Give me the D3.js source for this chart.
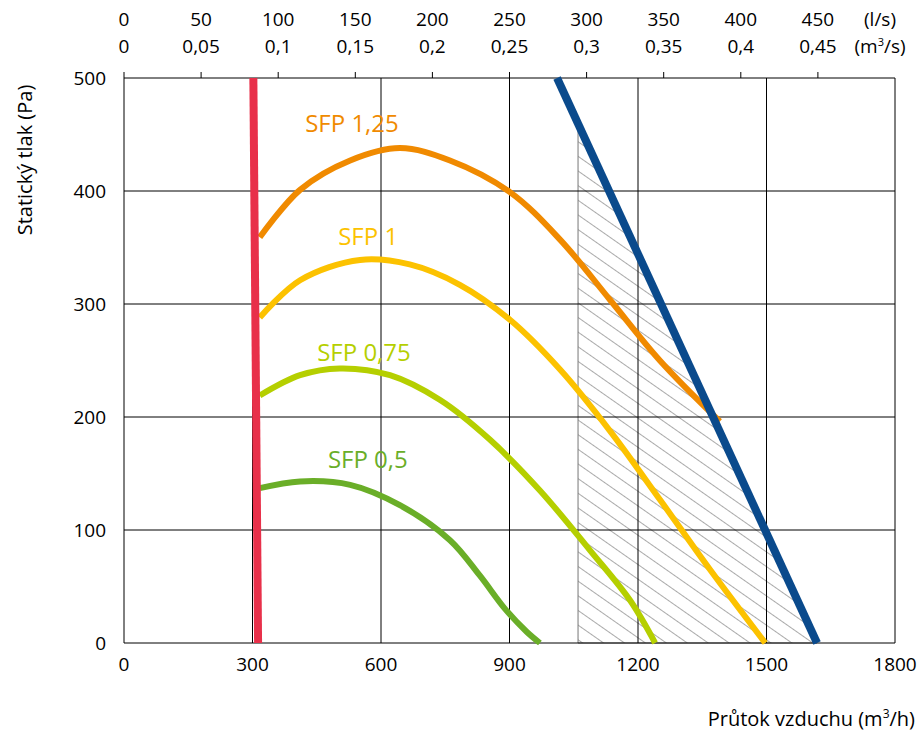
<!DOCTYPE html><html><head><meta charset="utf-8"><script src="https://cdn.jsdelivr.net/npm/d3@7"></script>
<style>body{margin:0;background:#fff}text{font-family:"Open Sans",sans-serif}</style></head><body><svg id="c" width="923" height="734"></svg>
<script>
const xTicks=[0,300,600,900,1200,1500,1800];
const yTicks=[0,100,200,300,400,500];
const topLs=[0,50,100,150,200,250,300,350,400,450];
const topM3=["0","0,05","0,1","0,15","0,2","0,25","0,3","0,35","0,4","0,45"];
const redLine=[[302,500],[313,0]];
const blueLine=[[1011,500],[1618,0]];
const hatch=[[1060,0],[1060,460],[1618,0]];
const sfp125=[[317,359],[411,401],[528,427],[644,438],[761,427],[901,399],[1018,357],[1134,304],[1251,250],[1391,196]];
const sfp1=[[317,288],[411,321],[551,339],[667,335],[784,317],[901,286],[1018,242],[1134,188],[1251,127],[1368,65],[1497,0]];
const sfp075=[[317,219],[411,237],[504,243],[621,237],[738,215],[854,180],[971,135],[1088,82],[1181,38],[1240,0]];
const sfp05=[[317,137],[411,143],[528,140],[644,122],[761,91],[830,60],[890,30],[940,10],[971,0]];
const series=[{n:"SFP 1,25",d:sfp125,c:"#f08a00",l:[423,452]},{n:"SFP 1",d:sfp1,c:"#fcc200",l:[500,352]},{n:"SFP 0,75",d:sfp075,c:"#b5cf00",l:[451,250]},{n:"SFP 0,5",d:sfp05,c:"#6aae28",l:[476,155]}];
const svg=d3.select("#c");
const x=d3.scaleLinear().domain([0,1800]).range([124,895]);
const y=d3.scaleLinear().domain([0,500]).range([643,78]);
const defs=svg.append("defs");
const p=defs.append("pattern").attr("id","h").attr("patternUnits","userSpaceOnUse").attr("width",12).attr("height",12).attr("patternTransform","rotate(35)");
p.append("line").attr("x1",0).attr("y1",0).attr("x2",12).attr("y2",0).attr("stroke","#555").attr("stroke-width",1);
const ln=d3.line().x(d=>x(d[0])).y(d=>y(d[1]));
svg.append("path").attr("d",ln(hatch)+"Z").attr("fill","url(#h)").attr("stroke","#777").attr("stroke-width",1);
const g=svg.append("g");
xTicks.forEach(t=>g.append("line").attr("x1",x(t)).attr("x2",x(t)).attr("y1",78).attr("y2",643).attr("stroke","#000").attr("stroke-width",1));
yTicks.forEach(t=>g.append("line").attr("x1",124).attr("x2",895).attr("y1",y(t)).attr("y2",y(t)).attr("stroke","#000").attr("stroke-width",1));
xTicks.forEach(t=>g.append("text").attr("x",x(t)).attr("y",671).attr("text-anchor","middle").attr("font-size",19).text(t));
yTicks.forEach(t=>g.append("text").attr("x",106).attr("y",y(t)+7).attr("text-anchor","end").attr("font-size",19).text(t));
topLs.forEach((t,i)=>{const px=x(t*3.6);
 g.append("line").attr("x1",px).attr("x2",px).attr("y1",72).attr("y2",78).attr("stroke","#000");
 g.append("text").attr("x",px).attr("y",26).attr("text-anchor","middle").attr("font-size",19).text(t);
 g.append("text").attr("x",px).attr("y",53).attr("text-anchor","middle").attr("font-size",19).text(topM3[i]);});
g.append("text").attr("x",880).attr("y",26).attr("text-anchor","middle").attr("font-size",19).text("(l/s)");
const m=g.append("text").attr("x",880).attr("y",53).attr("text-anchor","middle").attr("font-size",19);
m.append("tspan").text("(m");m.append("tspan").attr("font-size",11).attr("dy",-7).text("3");m.append("tspan").attr("dy",7).text("/s)");
const xt=g.append("text").attr("x",915).attr("y",726).attr("text-anchor","end").attr("font-size",20);
xt.append("tspan").text("Průtok vzduchu (m");xt.append("tspan").attr("font-size",12).attr("dy",-8).text("3");xt.append("tspan").attr("dy",8).text("/h)");
g.append("text").attr("transform","translate(32,160) rotate(-90)").attr("text-anchor","middle").attr("font-size",20).text("Statický tlak (Pa)");
const cl=d3.line().x(d=>x(d[0])).y(d=>y(d[1])).curve(d3.curveCatmullRom);
series.forEach(s=>{svg.append("path").attr("d",cl(s.d)).attr("fill","none").attr("stroke",s.c).attr("stroke-width",6);
 svg.append("text").attr("x",x(s.l[0])).attr("y",y(s.l[1])).attr("font-size",24).attr("fill",s.c).text(s.n);});
svg.append("path").attr("d",ln(redLine)).attr("stroke","#e8304a").attr("stroke-width",8);
svg.append("path").attr("d",ln(blueLine)).attr("stroke","#0a4a8c").attr("stroke-width",8);
</script></body></html>
